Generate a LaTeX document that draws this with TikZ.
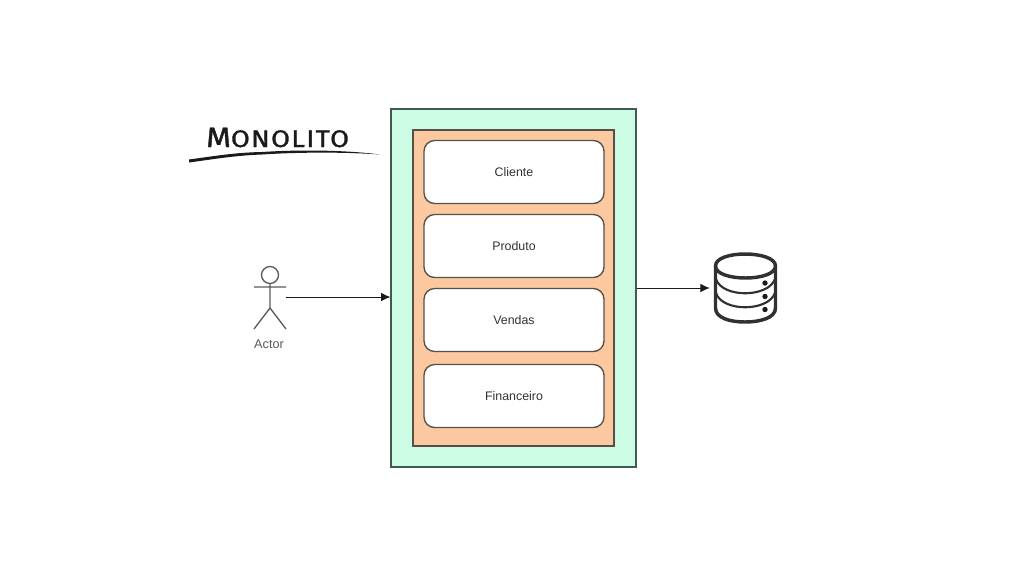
\documentclass[tikz,border=0pt]{standalone}
\usepackage{fontspec}
\setmainfont{Liberation Sans}
\newfontfamily\handfont[LetterSpace=5,FakeBold=1.2]{Fira Sans}
\usetikzlibrary{arrows.meta}
\definecolor{mint}{HTML}{CCFCE4}
\definecolor{peach}{HTML}{FBC89F}
\definecolor{edgeg}{HTML}{3F5A50}
\definecolor{edgeb}{HTML}{55504A}
\definecolor{txt}{HTML}{333333}
\definecolor{stick}{HTML}{5A5A5A}
\definecolor{ink}{HTML}{1A1A1A}
\tikzset{
  outerbox/.style={draw=edgeg,fill=mint,line width=0.9pt,minimum width=183.75pt,minimum height=268.5pt,inner sep=0pt},
  innerbox/.style={draw=edgeb,fill=peach,line width=0.9pt,minimum width=150.75pt,minimum height=237pt,inner sep=0pt},
  card/.style={draw=edgeb,fill=white,line width=1pt,rounded corners=8pt,minimum width=135pt,minimum height=47.25pt,inner sep=0pt,font=\fontsize{9.3pt}{11pt}\selectfont,text=txt},
  stickline/.style={draw=stick,line width=1pt},
  flow/.style={draw=ink,line width=0.75pt,-{Latex[length=7pt,width=6.5pt]}},
  dbline/.style={draw=ink!90,line width=1.6pt},
  dbouter/.style={draw=ink!90,line width=2.6pt},
}
\begin{document}
\begin{tikzpicture}[x=0.75pt,y=-0.75pt]
\useasboundingbox[fill=white] (0,0) rectangle (1024,576);
\node[outerbox] (outer) at (513.5,288) {};
\node[innerbox] (inner) at (513.5,288) {};
\node[card] (cliente) at (514,172) {Cliente};
\node[card] (produto) at (514,246) {Produto};
\node[card] (vendas) at (514,320) {Vendas};
\node[card] (financeiro) at (514,396) {Financeiro};
% title
\node[inner sep=0pt,anchor=base west,text=ink] (title) at (206,147) {\scalebox{1.135}[1]{\handfont\fontsize{21pt}{24pt}\selectfont M\fontsize{18pt}{20pt}\selectfont ONOLITO}};
\fill[ink] (189,159.5) .. controls (215,156) and (235,152.5) .. (262,152) .. controls (300,149.5) and (345,150) .. (380,154.5) .. controls (345,152) and (300,152) .. (262,154.5) .. controls (235,155.5) and (215,159) .. (189,162.5) -- cycle;
% actor
\draw[stickline] (270,275) circle[radius=8.5];
\draw[stickline] (270,283.5) -- (270,308) (254,287) -- (286,287) (254,329) -- (270,308) -- (286,329);
\coordinate (hand) at (286,297);
\node[inner sep=0pt,font=\fontsize{9.5pt}{11pt}\selectfont,text=stick] (actor) at (269,344) {Actor};
\draw[flow] (hand) -- (outer.west |- hand);
% database
\node[minimum width=52.5pt,minimum height=52.5pt,inner sep=0pt] (db) at (745,288) {};
\draw[dbline] (716,279) .. controls (722,298) and (768,298) .. (775,279);
\draw[dbline] (716,293) .. controls (722,312) and (768,312) .. (775,293);
\draw[dbouter] (745,254) .. controls (730,254) and (715.5,258) .. (715.5,266) -- (715.5,308) .. controls (715.5,318) and (730,322) .. (745,322) .. controls (760,322) and (775.5,318) .. (775.5,308) -- (775.5,266) .. controls (775.5,258) and (760,254) .. cycle;
\draw[dbouter] (715.5,266) .. controls (715.5,282) and (775.5,282) .. (775.5,266);
\fill[ink] (765,283) circle[radius=2.7] (765,296.5) circle[radius=2.7] (765,309.5) circle[radius=2.7];
\draw[flow] (outer.east |- db.west) -- (db.west);
\end{tikzpicture}
\end{document}
